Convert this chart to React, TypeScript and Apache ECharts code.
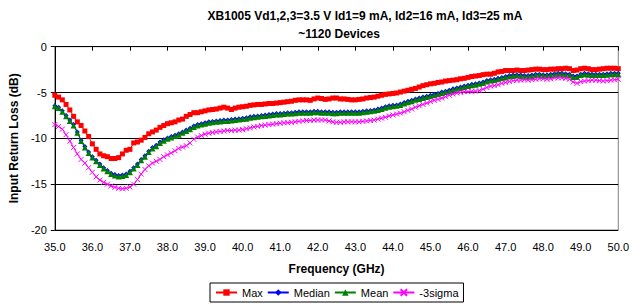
import React, { useEffect, useRef } from "react";
import * as echarts from "echarts";

const titleLines = ["XB1005 Vd1,2,3=3.5 V Id1=9 mA, Id2=16 mA, Id3=25 mA", "~1120 Devices"];
const xAxisName = "Frequency (GHz)";
const yAxisName = "Input Return Loss (dB)";
const seriesNames = ["Max", "Median", "Mean", "-3sigma"];

const freqStart = 35.0;
const freqStep = 0.1;

const maxVals = [
  -5.3, -5.5, -5.8, -6.3, -6.9, -7.6, -8.2, -8.6, -9.2, -9.8,
  -10.6, -11.2, -11.7, -11.9, -12.0, -12.2, -12.2, -12.1, -11.7, -11.3,
  -11.2, -10.5, -10.4, -10.2, -9.9, -9.5, -9.3, -9.1, -8.8, -8.6,
  -8.4, -8.3, -8.2, -8.0, -7.9, -7.6, -7.4, -7.2, -7.2, -7.1,
  -7.0, -6.9, -6.85, -6.8, -6.7, -6.6, -6.7, -6.85, -6.7, -6.6,
  -6.55, -6.5, -6.4, -6.35, -6.3, -6.3, -6.25, -6.2, -6.2, -6.15,
  -6.1, -6.05, -6.0, -5.95, -5.85, -5.8, -5.8, -5.8, -5.85, -5.7,
  -5.6, -5.65, -5.75, -5.7, -5.6, -5.6, -5.7, -5.7, -5.75, -5.8,
  -5.8, -5.75, -5.7, -5.6, -5.55, -5.5, -5.4, -5.3, -5.2, -5.15,
  -5.1, -5.05, -4.95, -4.85, -4.75, -4.65, -4.55, -4.4, -4.25, -4.15,
  -4.05, -4.0, -3.9, -3.85, -3.75, -3.7, -3.65, -3.6, -3.5, -3.45,
  -3.35, -3.25, -3.2, -3.15, -3.05, -3.0, -3.0, -2.9, -2.75, -2.7,
  -2.6, -2.6, -2.6, -2.55, -2.6, -2.6, -2.55, -2.5, -2.45, -2.45,
  -2.5, -2.5, -2.45, -2.45, -2.4, -2.4, -2.35, -2.4, -2.6, -2.55,
  -2.4, -2.35, -2.4, -2.5, -2.5, -2.45, -2.4, -2.35, -2.35, -2.35,
  -2.4,
];

const medianVals = [
  -6.45, -6.6, -7.0, -7.5, -8.0, -8.5, -9.3, -10.2, -10.9, -11.5,
  -12.0, -12.4, -12.8, -13.2, -13.5, -13.8, -13.95, -14.05, -14.0, -13.9,
  -13.6, -13.2, -12.8, -12.3, -11.9, -11.4, -11.0, -10.75, -10.4, -10.15,
  -9.95, -9.8, -9.65, -9.5, -9.3, -9.1, -8.9, -8.65, -8.5, -8.4,
  -8.3, -8.2, -8.15, -8.1, -8.05, -8.0, -8.0, -7.95, -7.9, -7.85,
  -7.8, -7.75, -7.65, -7.6, -7.55, -7.5, -7.45, -7.4, -7.35, -7.3,
  -7.3, -7.25, -7.2, -7.2, -7.15, -7.1, -7.1, -7.1, -7.1, -7.05,
  -7.05, -7.1, -7.1, -7.1, -7.15, -7.15, -7.1, -7.1, -7.1, -7.1,
  -7.1, -7.1, -7.05, -7.0, -6.95, -6.9, -6.8, -6.7, -6.55, -6.45,
  -6.4, -6.35, -6.25, -6.1, -5.95, -5.85, -5.7, -5.6, -5.5, -5.4,
  -5.3, -5.2, -5.1, -4.95, -4.85, -4.75, -4.6, -4.5, -4.4, -4.3,
  -4.2, -4.1, -4.05, -3.95, -3.85, -3.7, -3.6, -3.55, -3.45, -3.35,
  -3.25, -3.15, -3.1, -3.05, -3.1, -3.15, -3.15, -3.1, -3.0, -3.0,
  -3.05, -3.05, -3.0, -2.95, -2.9, -2.9, -2.95, -3.0, -3.2, -3.2,
  -3.0, -2.9, -2.95, -3.0, -3.0, -3.0, -3.0, -2.95, -2.9, -2.9,
  -2.9,
];

const meanVals = [
  -6.5, -6.7, -7.1, -7.6, -8.1, -8.6, -9.4, -10.3, -11.0, -11.6,
  -12.1, -12.5, -12.9, -13.3, -13.6, -13.9, -14.05, -14.15, -14.1, -14.0,
  -13.7, -13.3, -12.9, -12.4, -12.0, -11.5, -11.1, -10.85, -10.5, -10.25,
  -10.05, -9.9, -9.75, -9.6, -9.4, -9.2, -9.0, -8.75, -8.6, -8.5,
  -8.4, -8.3, -8.25, -8.2, -8.15, -8.1, -8.1, -8.05, -8.0, -7.95,
  -7.9, -7.85, -7.75, -7.7, -7.65, -7.6, -7.55, -7.5, -7.45, -7.4,
  -7.4, -7.35, -7.3, -7.3, -7.25, -7.2, -7.2, -7.2, -7.2, -7.15,
  -7.15, -7.2, -7.2, -7.2, -7.25, -7.25, -7.2, -7.2, -7.2, -7.2,
  -7.2, -7.2, -7.15, -7.1, -7.05, -7.0, -6.9, -6.8, -6.65, -6.55,
  -6.5, -6.45, -6.35, -6.2, -6.05, -5.95, -5.8, -5.7, -5.6, -5.5,
  -5.4, -5.3, -5.2, -5.05, -4.95, -4.85, -4.7, -4.6, -4.5, -4.4,
  -4.3, -4.2, -4.15, -4.05, -3.95, -3.8, -3.7, -3.65, -3.55, -3.45,
  -3.35, -3.25, -3.2, -3.15, -3.2, -3.25, -3.25, -3.2, -3.1, -3.1,
  -3.15, -3.15, -3.1, -3.05, -3.0, -3.0, -3.05, -3.1, -3.3, -3.3,
  -3.1, -3.0, -3.05, -3.1, -3.1, -3.1, -3.1, -3.05, -3.0, -3.0,
  -3.0,
];

const sigmaVals = [
  -8.5, -8.7, -9.0, -9.6, -10.3, -11.0, -11.7, -12.3, -12.7, -13.2,
  -13.7, -14.2, -14.55, -14.8, -15.0, -15.2, -15.35, -15.45, -15.5, -15.45,
  -15.3, -15.0, -14.5, -13.9, -13.4, -13.0, -12.7, -12.5, -12.3, -12.0,
  -11.8, -11.6, -11.35, -11.1, -10.95, -10.8, -10.5, -10.1, -9.85, -9.7,
  -9.55, -9.45, -9.35, -9.3, -9.25, -9.2, -9.15, -9.15, -9.1, -9.1,
  -9.05, -8.95, -8.85, -8.75, -8.7, -8.6, -8.55, -8.5, -8.45, -8.4,
  -8.35, -8.3, -8.3, -8.25, -8.2, -8.15, -8.1, -8.05, -8.05, -8.0,
  -8.0, -8.0, -8.0, -8.1, -8.2, -8.25, -8.25, -8.2, -8.2, -8.2,
  -8.2, -8.2, -8.15, -8.1, -8.05, -8.0, -7.9, -7.8, -7.7, -7.55,
  -7.45, -7.35, -7.25, -7.1, -6.95, -6.8, -6.6, -6.45, -6.3, -6.15,
  -6.0, -5.85, -5.75, -5.6, -5.45, -5.3, -5.15, -5.05, -4.98, -4.92,
  -4.9, -4.88, -4.85, -4.8, -4.65, -4.45, -4.3, -4.25, -4.15, -4.0,
  -3.9, -3.8, -3.7, -3.65, -3.65, -3.6, -3.65, -3.6, -3.55, -3.5,
  -3.5, -3.55, -3.5, -3.4, -3.4, -3.4, -3.45, -3.55, -3.85, -4.0,
  -3.8, -3.75, -3.7, -3.65, -3.65, -3.7, -3.75, -3.7, -3.65, -3.6,
  -3.55,
];

const toPairs = (vals: number[]) =>
  vals.map((v, i) => [+(freqStart + i * freqStep).toFixed(1), v]);

export default function App() {
  const ref = useRef<HTMLDivElement>(null);
  useEffect(() => {
    if (!ref.current) return;
    const chart = echarts.init(ref.current, undefined, { renderer: "svg" });
    const font = "Arial, 'Liberation Sans', sans-serif";
    const crossPath = "path://M0,0L10,10M10,0L0,10";
    const mk = (
      name: string,
      vals: number[],
      color: string,
      symbol: string,
      size: number,
      cross = false
    ) => ({
      name,
      type: "line",
      data: toPairs(vals),
      symbol,
      symbolSize: size,
      showSymbol: true,
      lineStyle: { color, width: 1 },
      itemStyle: cross
        ? { color: "rgba(0,0,0,0)", borderColor: color, borderWidth: 1 }
        : { color, borderWidth: 0 },
      emphasis: { disabled: true },
    });
    chart.setOption({
      animation: false,
      backgroundColor: "#ffffff",
      textStyle: { fontFamily: font },
      title: [
        {
          text: titleLines[0],
          left: 360,
          top: 5,
          textAlign: "center",
          textStyle: { fontSize: 12, fontWeight: "bold", color: "#000", fontFamily: font },
        },
        {
          text: titleLines[1],
          left: 334,
          top: 23,
          textAlign: "center",
          textStyle: { fontSize: 12, fontWeight: "bold", color: "#000", fontFamily: font },
        },
      ],
      grid: { left: 49.5, right: 11, top: 46.7, bottom: 77, show: true, borderColor: "#808080", borderWidth: 1 },
      legend: {
        bottom: 5,
        left: 210,
        data: seriesNames,
        itemWidth: 21,
        itemHeight: 8,
        itemGap: 4,
        padding: [4, 5, 4, 5],
        borderColor: "#000",
        borderWidth: 1,
        textStyle: { fontSize: 11, color: "#000", fontFamily: font },
      },
      xAxis: {
        type: "value",
        min: 35,
        max: 50,
        interval: 1,
        name: xAxisName,
        nameLocation: "middle",
        nameGap: 33,
        nameTextStyle: { fontSize: 12, fontWeight: "bold", color: "#000", fontFamily: font },
        axisLine: { lineStyle: { color: "#000", width: 1 } },
        axisTick: { show: true, inside: false, length: 4, lineStyle: { color: "#000" } },
        axisLabel: { fontSize: 11, color: "#000", margin: 11, formatter: (v: number) => v.toFixed(1), fontFamily: font },
        splitLine: { show: false },
      },
      yAxis: {
        type: "value",
        min: -20,
        max: 0,
        interval: 5,
        name: yAxisName,
        nameLocation: "middle",
        nameGap: 33,
        nameTextStyle: { fontSize: 12, fontWeight: "bold", color: "#000", fontFamily: font },
        axisLine: { show: true, lineStyle: { color: "#000", width: 1 } },
        axisTick: { show: true, length: 4, lineStyle: { color: "#000" } },
        axisLabel: { fontSize: 11, color: "#000", margin: 8, fontFamily: font },
        splitLine: { show: true, lineStyle: { color: "#000", width: 1 } },
      },
      series: [
        mk(seriesNames[0], maxVals, "#ff0000", "rect", 5),
        mk(seriesNames[1], medianVals, "#0000ff", "diamond", 5),
        mk(seriesNames[2], meanVals, "#008000", "triangle", 6),
        mk(seriesNames[3], sigmaVals, "#ff00ff", crossPath, 5, true),
      ],
    });
    return () => chart.dispose();
  }, []);
  return <div ref={ref} style={{ width: 632, height: 307, position: "absolute", left: 0, top: 0 }} />;
}
